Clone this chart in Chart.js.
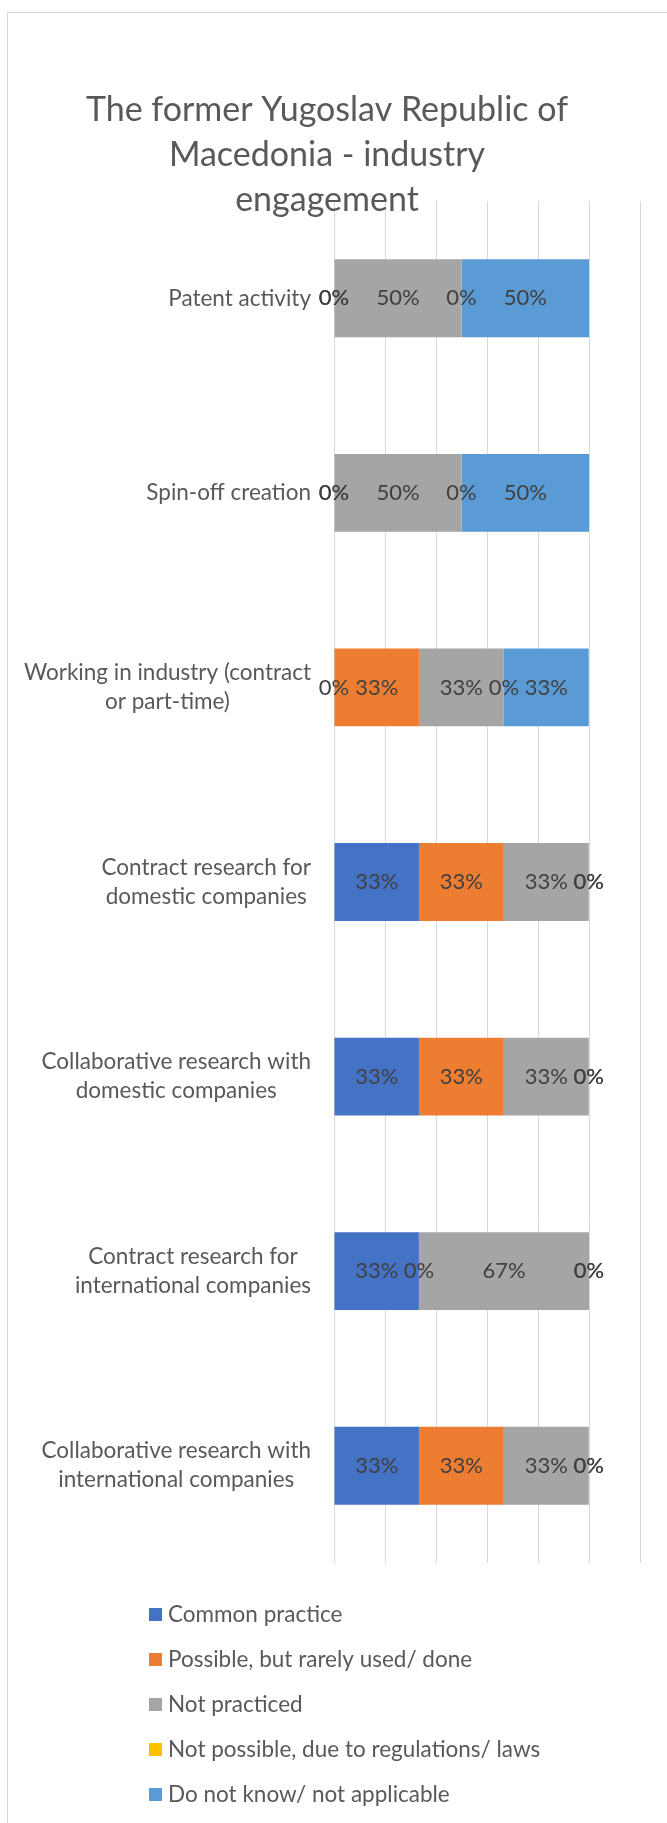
<!DOCTYPE html>
<html>
<head>
<meta charset="utf-8">
<script src="https://cdn.jsdelivr.net/npm/chart.js@4.4.1/dist/chart.umd.min.js"></script>
<style>
  html, body { margin: 0; padding: 0; background: #fff; }
  #wrap { width: 667px; height: 1823px; position: relative; }
</style>
</head>
<body>
<div id="wrap"><canvas id="chart"></canvas></div>
<script>
const titleLines = ['The former Yugoslav Republic of', 'Macedonia - industry', 'engagement'];

const categories = [
  ['Patent activity'],
  ['Spin-off creation'],
  ['Working in industry (contract', 'or part-time)'],
  ['Contract research for', 'domestic companies'],
  ['Collaborative research with', 'domestic companies'],
  ['Contract research for', 'international companies'],
  ['Collaborative research with', 'international companies'],
];

const seriesNames = [
  'Common practice',
  'Possible, but rarely used/ done',
  'Not practiced',
  'Not possible, due to regulations/ laws',
  'Do not know/ not applicable',
];

// percentages, one array per answer, rows top to bottom
const commonPractice = [0, 0, 0, 33.3, 33.3, 33.3, 33.3];
const rarelyUsed = [0, 0, 33.3, 33.3, 33.3, 0, 33.3];
const notPracticed = [50, 50, 33.3, 33.3, 33.3, 66.7, 33.3];
const notPossible = [0, 0, 0, 0, 0, 0, 0];
const doNotKnow = [50, 50, 33.3, 0, 0, 0, 0];

const xTicks = [0, 20, 40, 60, 80, 100, 120];

const colors = ['#4472C4', '#ED7D31', '#A5A5A5', '#FFC000', '#5B9BD5'];
const FONT = 'Lato, "Open Sans", sans-serif';

const seriesValues = [commonPractice, rarelyUsed, notPracticed, notPossible, doNotKnow];

// value labels in the middle of each bar piece
const valueLabels = {
  id: 'valueLabels',
  afterDatasetsDraw(chart) {
    const ctx = chart.ctx;
    ctx.save();
    ctx.font = '22px ' + FONT;
    ctx.fillStyle = '#404040';
    ctx.textAlign = 'center';
    ctx.textBaseline = 'middle';
    chart.data.datasets.forEach((ds, i) => {
      const meta = chart.getDatasetMeta(i);
      meta.data.forEach((bar, j) => {
        const x = (bar.x + bar.base) / 2;
        ctx.fillText(Math.round(ds.data[j]) + '%', x, bar.y);
      });
    });
    ctx.restore();
  }
};

// border, title, category labels and legend in the Excel style
const chrome = {
  id: 'chrome',
  afterDraw(chart) {
    const ctx = chart.ctx;
    ctx.save();
    ctx.strokeStyle = '#D9D9D9';
    ctx.lineWidth = 1;
    ctx.strokeRect(7.5, 12.5, 720, 1900);

    ctx.fillStyle = '#595959';
    ctx.textAlign = 'center';
    ctx.textBaseline = 'middle';
    ctx.font = '34px ' + FONT;
    titleLines.forEach((t, i) => ctx.fillText(t, 327, 110 + i * 45));

    // category labels: lines centred among themselves, block right aligned
    const yScale = chart.scales.y;
    ctx.font = '22.5px ' + FONT;
    chart.data.labels.forEach((lines, i) => {
      const w = Math.max(...lines.map(l => ctx.measureText(l).width));
      const cx = 311 - w / 2;
      const cy = yScale.getPixelForValue(i);
      lines.forEach((l, k) => {
        ctx.fillText(l, cx, cy + (k - (lines.length - 1) / 2) * 29);
      });
    });

    ctx.textAlign = 'left';
    ctx.font = '22.5px ' + FONT;
    chart.data.datasets.forEach((ds, i) => {
      const y = 1615 + i * 45;
      ctx.fillStyle = ds.backgroundColor;
      ctx.fillRect(149, y - 7, 13, 13);
      ctx.fillStyle = '#595959';
      ctx.fillText(ds.label, 168, y);
    });
    ctx.restore();
  }
};

function draw() {
  new Chart(document.getElementById('chart'), {
    type: 'bar',
    data: {
      labels: categories,
      datasets: seriesNames.map((name, i) => ({
        label: name,
        data: seriesValues[i],
        backgroundColor: colors[i],
        borderWidth: 0,
        barPercentage: 1,
        categoryPercentage: 0.4,
      })),
    },
    options: {
      indexAxis: 'y',
      responsive: true,
      maintainAspectRatio: false,
      animation: false,
      layout: { padding: { left: 0, right: 27, top: 201, bottom: 260 } },
      plugins: {
        legend: { display: false },
        title: { display: false },
        tooltip: { enabled: false },
      },
      scales: {
        x: {
          stacked: true,
          min: xTicks[0],
          max: xTicks[xTicks.length - 1],
          afterBuildTicks: scale => { scale.ticks = xTicks.map(v => ({ value: v })); },
          afterFit: scale => { scale.height = 0; },
          ticks: { display: false },
          grid: { color: '#D9D9D9', lineWidth: 1, drawTicks: false },
          border: { display: false },
        },
        y: {
          stacked: true,
          afterFit: scale => { scale.width = 334; },
          ticks: { display: false },
          grid: { display: false, drawTicks: false },
          border: { display: false },
        },
      },
    },
    plugins: [valueLabels, chrome],
  });
}

if (document.fonts && document.fonts.load) {
  Promise.all([document.fonts.load('22px Lato'), document.fonts.load('34px Lato')])
    .then(draw, draw);
} else {
  draw();
}
</script>
</body>
</html>
